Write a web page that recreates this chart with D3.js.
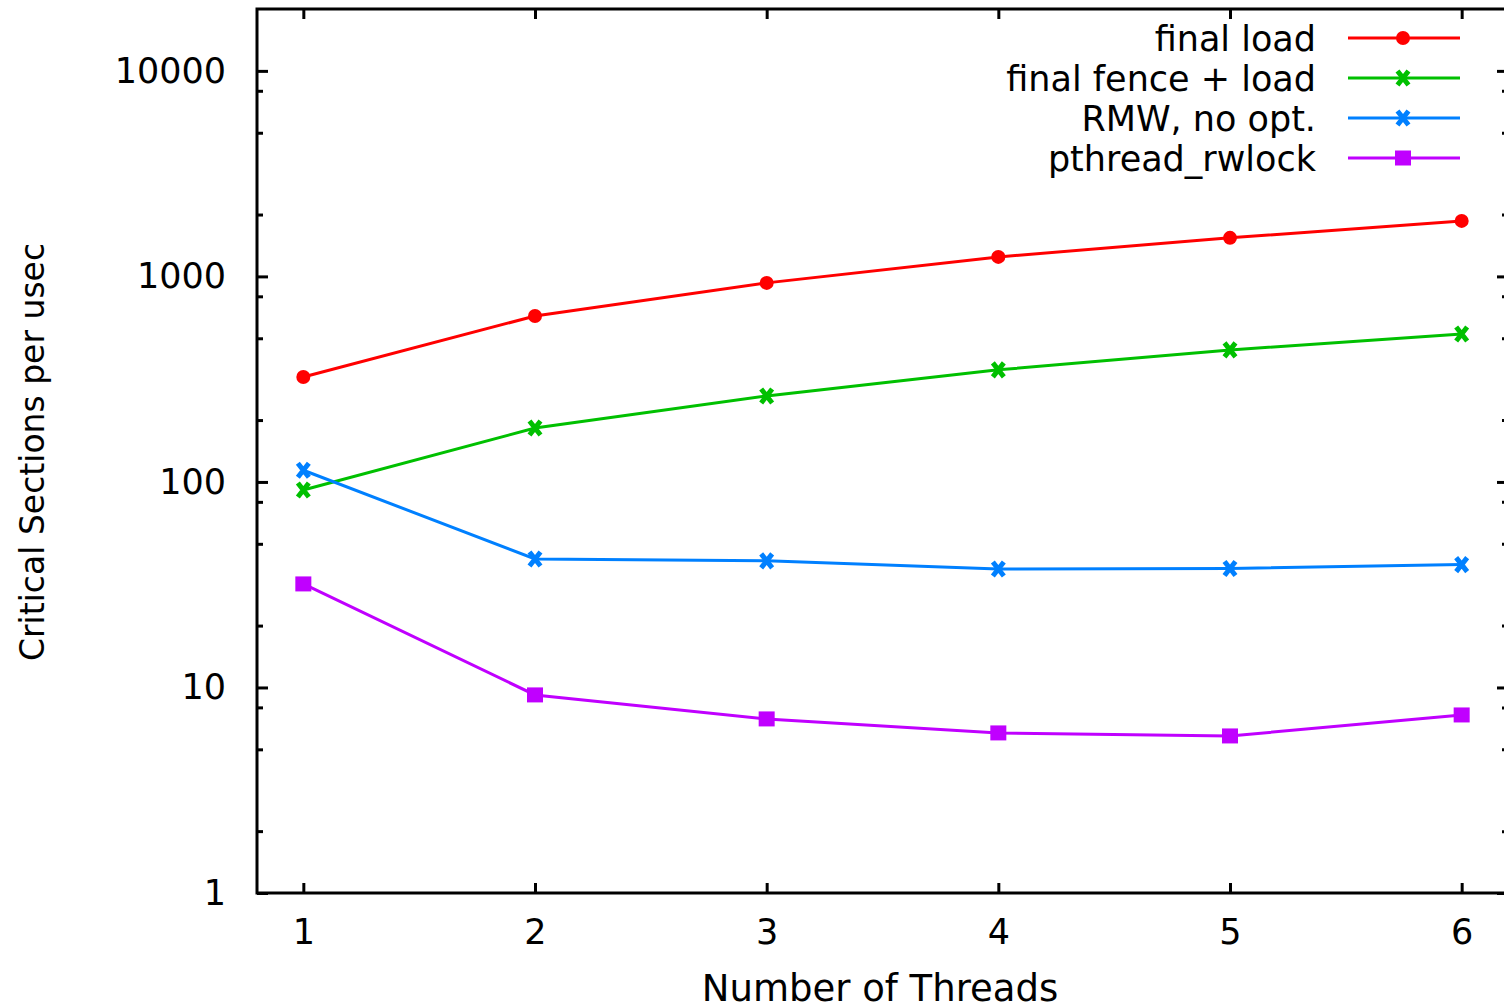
<!DOCTYPE html>
<html>
<head>
<meta charset="utf-8">
<style>
html, body {
  margin: 0;
  background: #fff;
  overflow: hidden;
}
text {
  font-family: "DejaVu Sans", sans-serif;
  font-size: 35px;
  fill: #000;
}
.tick line {
  stroke: #000;
  stroke-width: 3px;
}
.series path.line {
  fill: none;
  stroke-width: 3px;
}
</style>
<script src="https://d3js.org/d3.v7.min.js"></script>
</head>
<body>
<svg width="1504" height="1007"></svg>
<script>
var threads = [1, 2, 3, 4, 5, 6];
var finalLoad = [324, 642, 930, 1244, 1540, 1862];
var finalFenceLoad = [91.4, 183, 262, 351, 439, 525];
var rmwNoOpt = [114, 42.2, 41.3, 37.7, 37.9, 39.6];
var pthreadRwlock = [31.9, 9.2, 7.03, 6.01, 5.81, 7.35];

var seriesNames = ["final load", "final fence + load", "RMW, no opt.", "pthread_rwlock"];
var seriesColors = ["#ff0000", "#00c000", "#0080ff", "#c000ff"];
var seriesMarks = ["circle", "cross", "cross", "square"];
var seriesValues = [finalLoad, finalFenceLoad, rmwNoOpt, pthreadRwlock];

var yMajor = [1, 10, 100, 1000, 10000];
var yMinorSteps = [2, 5, 8];

var svg = d3.select("svg");
var plotLeft = 257, plotRight = 1508, plotTop = 9, plotBottom = 893;

var x = d3.scaleLinear().domain([0.8, 6.2]).range([plotLeft, plotRight]);
var y = d3.scaleLog().domain([1, 20000]).range([plotBottom, plotTop]);

var yMinor = [];
yMajor.forEach(function(d) {
  yMinorSteps.forEach(function(s) {
    if (d * s < 20000) yMinor.push(d * s);
  });
});

// axes, ticks pointing inward like gnuplot
svg.append("g")
    .attr("transform", "translate(" + plotLeft + ",0)")
    .call(d3.axisLeft(y).tickValues(yMajor).tickFormat(d3.format("d")).tickSize(-11).tickPadding(31))
    .call(g => g.select(".domain").remove())
    .call(g => g.attr("font-size", null).attr("font-family", null));
svg.append("g")
    .attr("transform", "translate(" + plotLeft + ",0)")
    .call(d3.axisLeft(y).tickValues(yMinor).tickFormat("").tickSize(-6))
    .call(g => g.select(".domain").remove());
svg.append("g")
    .attr("transform", "translate(" + plotRight + ",0)")
    .call(d3.axisRight(y).tickValues(yMajor).tickFormat("").tickSize(-11))
    .call(g => g.select(".domain").remove());
svg.append("g")
    .attr("transform", "translate(" + plotRight + ",0)")
    .call(d3.axisRight(y).tickValues(yMinor).tickFormat("").tickSize(-6))
    .call(g => g.select(".domain").remove());
svg.append("g")
    .attr("transform", "translate(0," + plotBottom + ")")
    .call(d3.axisBottom(x).tickValues(threads).tickFormat(d3.format("d")).tickSize(-10).tickPadding(26))
    .call(g => g.select(".domain").remove())
    .call(g => g.attr("font-size", null).attr("font-family", null));
svg.append("g")
    .attr("transform", "translate(0," + plotTop + ")")
    .call(d3.axisTop(x).tickValues(threads).tickFormat("").tickSize(-10))
    .call(g => g.select(".domain").remove());

svg.append("rect")
    .attr("x", plotLeft).attr("y", plotTop)
    .attr("width", plotRight - plotLeft).attr("height", plotBottom - plotTop)
    .attr("fill", "none").attr("stroke", "#000").attr("stroke-width", 3);

// axis titles
svg.append("text")
    .attr("x", 880)
    .attr("y", 1001)
    .attr("text-anchor", "middle")
    .style("font-size", "37px")
    .text("Number of Threads");
svg.append("text")
    .attr("transform", "translate(44,452) rotate(-90)")
    .attr("text-anchor", "middle")
    .style("font-size", "33px")
    .text("Critical Sections per usec");

function drawMark(g, kind, color) {
  if (kind === "circle") {
    g.append("circle").attr("r", 7).attr("fill", color);
  } else if (kind === "square") {
    g.append("rect").attr("x", -8).attr("y", -7.5).attr("width", 16).attr("height", 15).attr("fill", color);
  } else {
    g.append("path").attr("d", "M-5.5,-7L5.5,7M5.5,-7L-5.5,7")
        .attr("stroke", color).attr("stroke-width", 5).attr("fill", "none");
  }
}

var line = d3.line()
    .x((d, i) => x(threads[i]))
    .y(d => y(d));

seriesValues.forEach(function(vals, k) {
  var g = svg.append("g").attr("class", "series");
  g.append("path").attr("class", "line")
      .attr("d", line(vals))
      .attr("stroke", seriesColors[k]);
  vals.forEach(function(v, i) {
    var m = g.append("g").attr("transform", "translate(" + x(threads[i]) + "," + y(v) + ")");
    drawMark(m, seriesMarks[k], seriesColors[k]);
  });
});

// legend
var legend = svg.append("g");
seriesNames.forEach(function(name, k) {
  var ly = 38 + k * 40;
  legend.append("text")
      .attr("x", 1316).attr("y", ly)
      .attr("dy", "0.36em")
      .attr("text-anchor", "end")
      .text(name);
  legend.append("line")
      .attr("x1", 1348).attr("x2", 1460)
      .attr("y1", ly).attr("y2", ly)
      .attr("stroke", seriesColors[k]).attr("stroke-width", 3);
  var m = legend.append("g").attr("transform", "translate(1403," + ly + ")");
  drawMark(m, seriesMarks[k], seriesColors[k]);
});
</script>
</body>
</html>
